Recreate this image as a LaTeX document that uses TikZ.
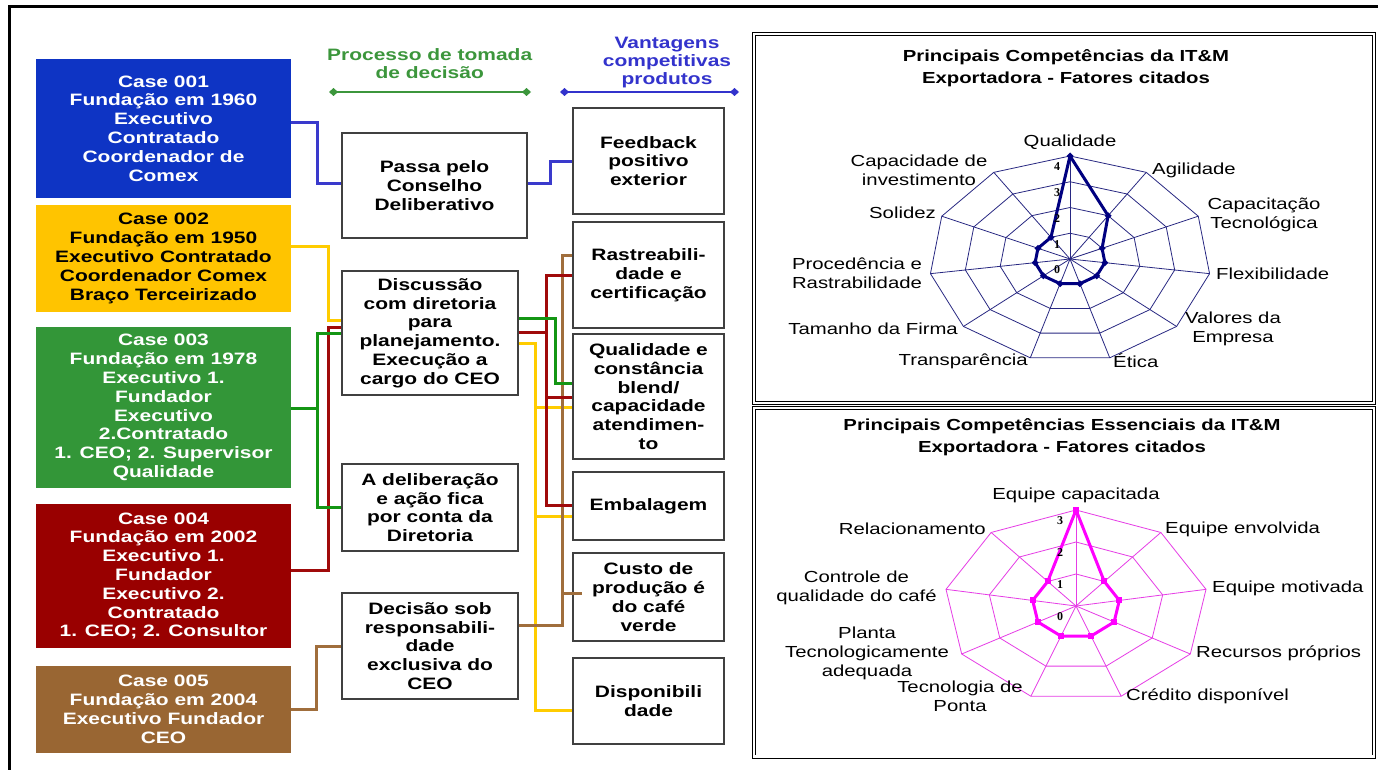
\documentclass[tikz,border=0pt]{standalone}
\usepackage{fontspec}
\setmainfont{Liberation Sans}[FakeStretch=1.27]
\newfontfamily\numfont{Liberation Serif}
\usetikzlibrary{arrows.meta}
\definecolor{caseblue}{RGB}{14,52,196}
\definecolor{caseyellow}{RGB}{255,196,0}
\definecolor{casegreen}{RGB}{51,150,56}
\definecolor{casered}{RGB}{153,0,0}
\definecolor{casebrown}{RGB}{153,102,51}
\definecolor{lnblue}{RGB}{58,58,204}
\definecolor{lnyellow}{RGB}{255,204,0}
\definecolor{lngreen}{RGB}{20,150,20}
\definecolor{lnred}{RGB}{160,10,10}
\definecolor{lnbrown}{RGB}{160,110,60}
\definecolor{hdrgreen}{RGB}{60,150,60}
\definecolor{hdrblue}{RGB}{51,51,204}
\definecolor{webnavy}{RGB}{40,40,130}
\definecolor{datanavy}{RGB}{0,0,128}
\definecolor{webpink}{RGB}{230,60,230}
\definecolor{datapink}{RGB}{255,0,255}

\begin{document}
\begin{tikzpicture}[x=1pt,y=-1pt,
  boxfont/.style={font=\fontsize{16.5}{18.8}\selectfont\bfseries},
  casebox/.style={boxfont, rectangle, inner sep=0pt, align=center,
    minimum width=255pt, text=white},
  procbox/.style={boxfont, rectangle, draw=black!75, line width=1.2pt,
    fill=white, inner sep=0pt, align=center},
  midbox/.style={procbox, minimum width=176pt},
  advbox/.style={procbox, minimum width=151pt},
  link/.style={line width=3pt},
  chartlab/.style={font=\fontsize{16}{19}\selectfont, inner sep=0pt, align=center},
  charttitle/.style={font=\fontsize{16}{21.7}\selectfont\bfseries, inner sep=0pt, align=center},
  axnum/.style={font=\numfont\fontsize{12}{12}\selectfont\bfseries, inner sep=0pt},
  hdr/.style={font=\fontsize{16.5}{17.8}\selectfont\bfseries, inner sep=0pt, align=center},
  hdrline/.style={line width=1.6pt, {Diamond[length=9pt,width=8pt]}-{Diamond[length=9pt,width=8pt]}},
  frame2/.style={draw=black, line width=0.9pt, double=white, double distance=2.2pt},
]
\useasboundingbox (0,0) rectangle (1378,770);
\fill[white] (0,0) rectangle (1378,770);

% outer border
\draw[line width=3pt] (9.5,7) rectangle (1395,790);

% column headings
\node[hdr, text=hdrgreen] (hproc) at (429.7,64) {Processo de tomada\\de decisão};
\node[hdr, text=hdrblue] (hvant) at (667,62.5) {Vantagens\\competitivas\\produtos};
\coordinate (hprocL) at (329,92);
\coordinate (hprocR) at (531,92);
\coordinate (hvantL) at (560,92);
\coordinate (hvantR) at (739,92);
\draw[hdrgreen, hdrline] (hprocL) -- (hprocR);
\draw[hdrblue, hdrline] (hvantL) -- (hvantR);

% cases
\node[casebox, fill=caseblue, minimum height=139pt] (c1) at (163.5,128.5)
  {Case 001\\Fundação em 1960\\Executivo\\Contratado\\Coordenador de\\Comex};
\node[casebox, fill=caseyellow, text=black, minimum height=107pt] (c2) at (163.5,258.5)
  {Case 002\\Fundação em 1950\\Executivo Contratado\\Coordenador Comex\\Braço Terceirizado};
\node[casebox, fill=casegreen, minimum height=161pt] (c3) at (163.5,407.5)
  {Case 003\\Fundação em 1978\\Executivo 1.\\Fundador\\Executivo\\2.Contratado\\1. CEO; 2. Supervisor\\Qualidade};
\node[casebox, fill=casered, minimum height=144pt] (c4) at (163.5,576)
  {Case 004\\Fundação em 2002\\Executivo 1.\\Fundador\\Executivo 2.\\Contratado\\1. CEO; 2. Consultor};
\node[casebox, fill=casebrown, minimum height=87pt] (c5) at (163.5,709.5)
  {Case 005\\Fundação em 2004\\Executivo Fundador\\CEO};

% decision process
\node[procbox, minimum width=185pt, minimum height=105pt] (m1) at (434.5,185.5)
  {Passa pelo\\Conselho\\Deliberativo};
\node[midbox, minimum height=124pt] (m2) at (430,333)
  {Discussão\\com diretoria\\para\\planejamento.\\Execução a\\cargo do CEO};
\node[midbox, minimum height=87pt] (m3) at (430,507.5)
  {A deliberação\\e ação fica\\por conta da\\Diretoria};
\node[midbox, minimum height=106pt] (m4) at (430,646)
  {Decisão sob\\responsabili-\\dade\\exclusiva do\\CEO};

% competitive advantages
\node[advbox, minimum height=106pt] (r1) at (648.5,161) {Feedback\\positivo\\exterior};
\node[advbox, minimum height=106pt] (r2) at (648.5,275) {Rastreabili-\\dade e\\certificação};
\node[advbox, minimum height=125pt] (r3) at (648.5,396.5)
  {Qualidade e\\constância\\blend/\\capacidade\\atendimen-\\to};
\node[advbox, minimum height=68pt] (r4) at (648.5,506) {Embalagem};
\node[advbox, minimum height=88pt] (r5) at (648.5,597) {Custo de\\produção é\\do café\\verde};
\node[advbox, minimum height=86pt] (r6) at (648.5,701) {Disponibili\\dade};

% connectors
\begin{scope}[link]
  % Case 002
  \draw[lnyellow] (c2.east |- 0,246) -- (328.5,246) |- (m2.west |- 0,320);
  \draw[lnyellow] (m2.east |- 0,343) -- (535,343) |- (r6.west |- 0,710);
  \draw[lnyellow] (535,407) -- (r3.west |- 0,407);
  \draw[lnyellow] (535,516) -- (r4.west |- 0,516);
  % Case 005
  \draw[lnbrown] (c5.east |- 0,709) -- (316,709) |- (m4.west |- 0,646);
  \draw[lnbrown] (m4.east |- 0,625) -- (562.5,625) |- (r2.west |- 0,255);
  \draw[lnbrown] (562.5,593) -- ([xshift=10pt]r5.west |- 0,593);
  % Case 004
  \draw[lnred] (c4.east |- 0,570) -- (328.5,570) |- (m2.west |- 0,327);
  \draw[lnred] (m2.east |- 0,332) -- (546,332);
  \draw[lnred] (r2.west |- 0,275) -- (546,275) |- (r4.west |- 0,505);
  \draw[lnred] (546,397) -- (r3.west |- 0,397);
  % Case 003
  \draw[lngreen] (c3.east |- 0,408) -- (317.5,408);
  \draw[lngreen] (m2.west |- 0,333) -- (317.5,333) |- (m3.west |- 0,507);
  \draw[lngreen] (m2.east |- 0,318) -- (555,318) |- (r3.west |- 0,383);
  % Case 001
  \draw[lnblue] (c1.east |- 0,123) -- (317.5,123) |- (m1.west |- 0,184);
  \draw[lnblue] (m1.east |- 0,184) -- (550,184) |- (r1.west |- 0,162);
\end{scope}

% chart frames
\draw[frame2] (754,34) rectangle (1374,403);
\draw[frame2] (754,408) rectangle (1374,756.5);

% ---- radar chart: competencies (11 axes, scale 0-4)
\node[charttitle] (tA) at (1066,68) {Principais Competências da IT\&M\\Exportadora - Fatores citados};
\foreach \r in {1,2,3,4}
  \draw[webnavy, line width=0.8pt] plot[samples at={0,...,10}]
    ({1070+\r/4*141*cos(90-\x*360/11)},{259-\r/4*103*sin(90-\x*360/11)}) -- cycle;
\foreach \k in {0,...,10}
  \draw[webnavy, line width=0.8pt] (1070,259) -- ({1070+141*cos(90-\k*360/11)},{259-103*sin(90-\k*360/11)});
\foreach \v [count=\k from 0] in {4,2,1,1,1,1,1,1,1,1,1}
  \coordinate (pA\k) at ({1070+\v/4*141*cos(90-\k*360/11)},{259-\v/4*103*sin(90-\k*360/11)});
\draw[datanavy, line width=3pt, line join=round] (pA0) \foreach \k in {1,...,10}{ -- (pA\k)} -- cycle;
\foreach \k in {0,...,10}
  \fill[datanavy] (pA\k) ++(0,-3.5) -- ++(3.5,3.5) -- ++(-3.5,3.5) -- ++(-3.5,-3.5) -- cycle;
\foreach \v in {0,...,4}
  \node[axnum] (nA\v) at (1057,{259-\v*103/4+11}) {\v};
\node[chartlab] (qA1) at (1070,142) {Qualidade};
\node[chartlab, anchor=west] (qA2) at (1152,170) {Agilidade};
\node[chartlab] (qA3) at (1264,214.5) {Capacitação\\Tecnológica};
\node[chartlab, anchor=west] (qA4) at (1216,274) {Flexibilidade};
\node[chartlab] (qA5) at (1233,329) {Valores da\\Empresa};
\node[chartlab, anchor=west] (qA6) at (1113,361) {Ética};
\node[chartlab, anchor=east] (qA7) at (1028,361) {Transparência};
\node[chartlab, anchor=east] (qA8) at (958,329) {Tamanho da Firma};
\node[chartlab] (qA9) at (857,273.5) {Procedência e\\Rastrabilidade};
\node[chartlab, anchor=east] (qA10) at (936,213) {Solidez};
\node[chartlab] (qA11) at (919,170.5) {Capacidade de\\investimento};

% ---- radar chart: core competencies (9 axes, scale 0-3)
\node[charttitle] (tB) at (1062,437.5) {Principais Competências Essenciais da IT\&M\\Exportadora - Fatores citados};
\foreach \r in {1,2,3}
  \draw[webpink, line width=0.8pt] plot[samples at={0,...,8}]
    ({1076+\r/3*132*cos(90-\x*40)},{606-\r/3*96*sin(90-\x*40)}) -- cycle;
\foreach \k in {0,...,8}
  \draw[webpink, line width=0.8pt] (1076,606) -- ({1076+132*cos(90-\k*40)},{606-96*sin(90-\k*40)});
\foreach \v [count=\k from 0] in {3,1,1,1,1,1,1,1,1}
  \coordinate (pB\k) at ({1076+\v/3*132*cos(90-\k*40)},{606-\v/3*96*sin(90-\k*40)});
\draw[datapink, line width=3pt, line join=round] (pB0) \foreach \k in {1,...,8}{ -- (pB\k)} -- cycle;
\foreach \k in {0,...,8}
  \fill[datapink] ([shift={(-3,-3)}]pB\k) rectangle ([shift={(3,3)}]pB\k);
\foreach \v in {0,...,3}
  \node[axnum] (nB\v) at (1060,{606-\v*32+11}) {\v};
\node[chartlab] (qB1) at (1076,495) {Equipe capacitada};
\node[chartlab, anchor=west] (qB2) at (1165,529) {Equipe envolvida};
\node[chartlab, anchor=west] (qB3) at (1212,588) {Equipe motivada};
\node[chartlab, anchor=west] (qB4) at (1196,653) {Recursos próprios};
\node[chartlab, anchor=west] (qB5) at (1126,696) {Crédito disponível};
\node[chartlab] (qB6) at (960,696) {Tecnologia de\\Ponta};
\node[chartlab] (qB7) at (867,653.5) {Planta\\Tecnologicamente\\adequada};
\node[chartlab] (qB8) at (856.5,588) {Controle de\\qualidade do café};
\node[chartlab, anchor=east] (qB9) at (986,529) {Relacionamento};
\end{tikzpicture}
\end{document}
